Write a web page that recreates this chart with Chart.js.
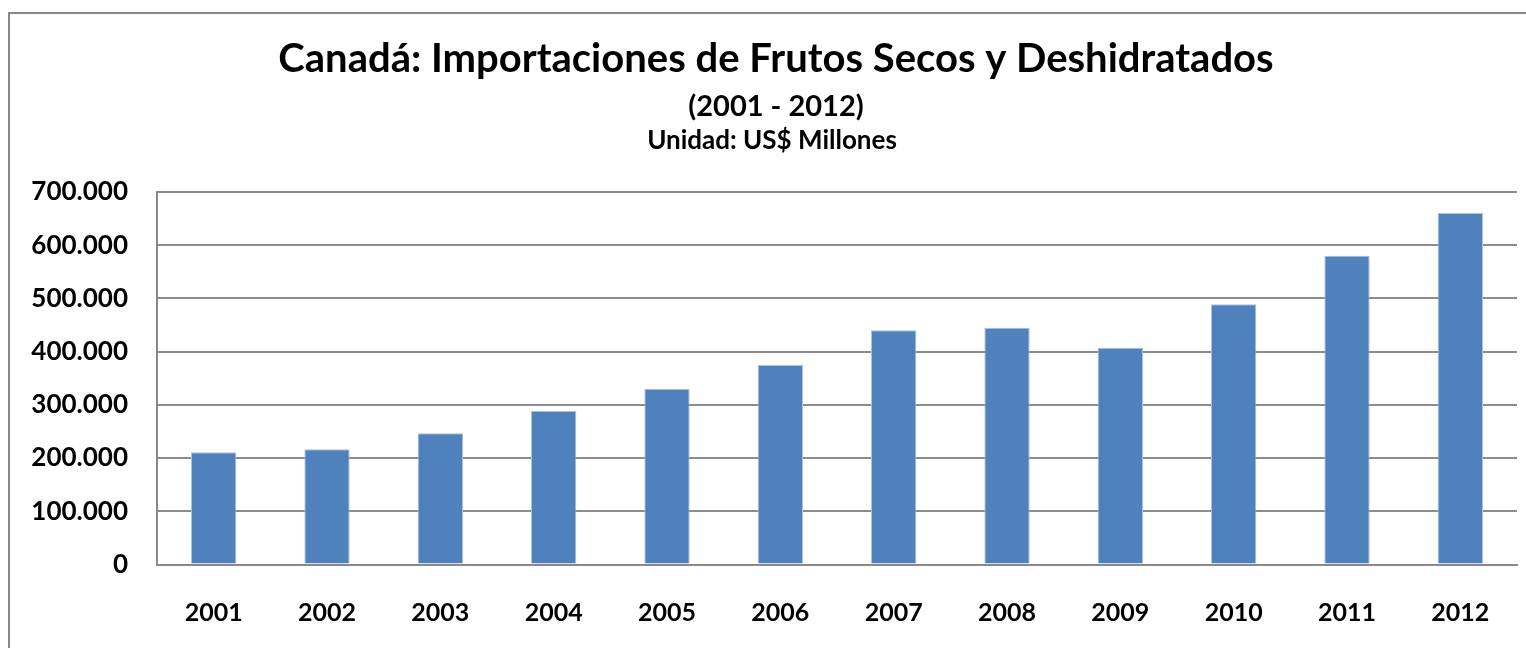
<!DOCTYPE html>
<html>
<head>
<meta charset="utf-8">
<script src="https://cdn.jsdelivr.net/npm/chart.js@4.4.0/dist/chart.umd.min.js"></script>
<style>
  html, body { margin: 0; padding: 0; background: #fff; }
  #wrap { position: relative; width: 1526px; height: 648px; }
</style>
</head>
<body>
<div id="wrap"><canvas id="myChartBar0" width="1526" height="648"></canvas></div>
<script>
// datos
let anios = ['2001', '2002', '2003', '2004', '2005', '2006', '2007', '2008', '2009', '2010', '2011', '2012'];
let valores = [211000, 216500, 246600, 288500, 330400, 375000, 440000, 445000, 407500, 489000, 580000, 660500];
let titulo = 'Canadá: Importaciones de Frutos Secos y Deshidratados';
let periodo = '(2001 - 2012)';
let unidad = 'Unidad: US$ Millones';

function formatMiles(v) {
    return String(v).replace(/\B(?=(\d{3})+(?!\d))/g, '.');
}

// titulos y marco exterior
let textos = {
    id: 'textos',
    beforeDraw(chart) {
        let ctx = chart.ctx;
        ctx.save();
        ctx.strokeStyle = '#898989';
        ctx.lineWidth = 2;
        ctx.beginPath();
        ctx.moveTo(9, 660);
        ctx.lineTo(9, 13);
        ctx.lineTo(1540, 13);
        ctx.stroke();

        ctx.fillStyle = '#000';
        ctx.textAlign = 'center';
        ctx.textBaseline = 'alphabetic';
        ctx.font = 'bold 40px Lato';
        ctx.fillText(titulo, 776, 72);
        ctx.font = 'bold 29px Lato';
        ctx.fillText(periodo, 776, 116);
        ctx.font = 'bold 26px Lato';
        ctx.fillText(unidad, 772, 149);
        ctx.restore();
    }
};

let canvas = document.getElementById('myChartBar0');
let myChartBar = new Chart(canvas, {
    type: 'bar',
    data: {
        labels: anios,
        datasets: [{
            label: 'Importaciones',
            data: valores,
            backgroundColor: '#4F81BD',
            borderColor: '#a9c0df',
            borderWidth: 1,
            borderSkipped: 'bottom',
            barPercentage: 0.4,
            categoryPercentage: 1.0
        }]
    },
    options: {
        responsive: false,
        animation: false,
        layout: { padding: { top: 192, right: 9, left: 0, bottom: 0 } },
        plugins: {
            legend: { display: false },
            tooltip: { enabled: false }
        },
        scales: {
            x: {
                grid: { display: false, drawTicks: false },
                border: { display: true, color: '#898989', width: 2 },
                ticks: {
                    color: '#000',
                    padding: 33,
                    font: { family: 'Lato', weight: 'bold', size: 25 }
                },
                afterFit(scale) { scale.height = 83.5; }
            },
            y: {
                min: 0,
                max: 700000,
                grid: { color: '#8c8c8c', lineWidth: 2, drawTicks: false },
                border: { display: true, color: '#898989', width: 2 },
                ticks: {
                    stepSize: 100000,
                    color: '#000',
                    padding: 29,
                    font: { family: 'Lato', weight: 'bold', size: 26 },
                    callback: function (v) { return formatMiles(v); }
                },
                afterFit(scale) { scale.width = 157; }
            }
        }
    },
    plugins: [textos]
});
</script>
</body>
</html>
